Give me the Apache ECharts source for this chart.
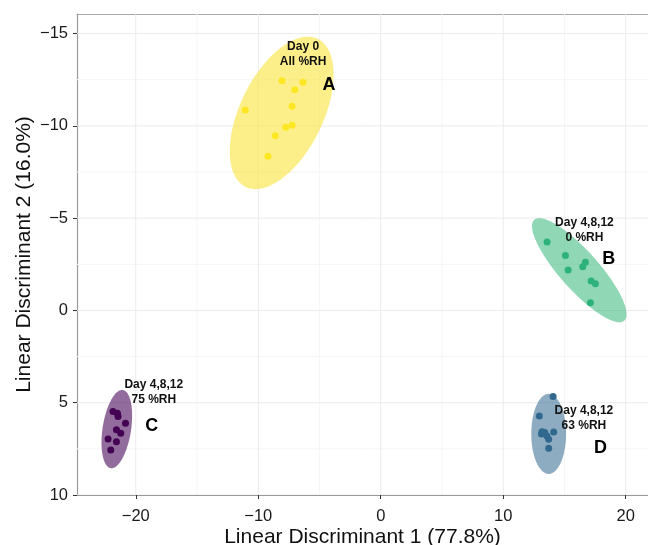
<!DOCTYPE html>
<html><head><meta charset="utf-8">
<script src="https://cdn.jsdelivr.net/npm/echarts@6/dist/echarts.min.js"></script>
<style>html,body{margin:0;padding:0;background:#fff}#c{width:648px;height:545px}</style>
</head><body><div id="c"></div>
<script>
// ---- data ----
const groupNames = ['A', 'B', 'C', 'D'];
const aX = [-8.06, -6.35, -7.02, -11.06, -7.24, -7.24, -7.76, -8.61, -9.21];
const aY = [-12.45, -12.36, -11.96, -10.86, -11.06, -10.03, -9.92, -9.47, -8.35];
const bX = [13.58, 15.08, 16.71, 16.49, 15.30, 17.18, 17.53, 17.12];
const bY = [-3.71, -2.97, -2.61, -2.36, -2.19, -1.60, -1.44, -0.41];
const cX = [-21.86, -21.50, -21.45, -20.84, -21.58, -21.23, -22.26, -21.58, -22.04];
const cY = [5.48, 5.57, 5.75, 6.11, 6.47, 6.65, 6.96, 7.11, 7.56];
const dX = [14.07, 12.95, 13.17, 13.39, 14.12, 13.71, 13.71, 13.12, 13.57];
const dY = [4.67, 5.72, 6.57, 6.62, 6.58, 6.98, 7.47, 6.69, 6.80];
// ellipses: centre, half extent in x and y, x-offset of the extreme-y point
const ellCx = [-8.09, 16.21, -21.55, 13.71];
const ellCy = [-10.70, -2.18, 6.43, 6.69];
const ellHalfX = [4.24, 3.86, 1.25, 1.42];
const ellHalfY = [4.13, 2.82, 2.12, 2.17];
const ellTopDx = [2.13, -3.27, 0.43, 0.0];
// annotations
const noteText = ['Day 0\nAll %RH', 'Day 4,8,12\n0 %RH', 'Day 4,8,12\n75 %RH', 'Day 4,8,12\n63 %RH'];
const noteX = [-6.34, 16.63, -18.53, 16.59];
const noteY = [-13.88, -4.37, 4.41, 5.82];
const letterX = [-4.22, 18.62, -18.69, 17.94];
const letterY = [-12.22, -2.77, 6.29, 7.46];
// axes
const xTicks = [-20, -10, 0, 10, 20];
const yTicks = [-15, -10, -5, 0, 5, 10];
const xMinor = [-25, -15, -5, 5, 15];
const yMinor = [-12.5, -7.5, -2.5, 2.5, 7.5];
const xRange = [-24.8, 21.82];
const yRange = [-16.06, 10];
const xTitle = 'Linear Discriminant 1 (77.8%)';
const yTitle = 'Linear Discriminant 2 (16.0%)';

// ---- styles ----
const ptColors = ['#FDE725', '#2DB27D', '#440154', '#31688E'];
const fillColors = ['rgba(250,228,60,0.6)', 'rgba(53,183,121,0.55)', 'rgba(68,1,84,0.58)', 'rgba(49,104,142,0.55)'];
const FONT = '"Liberation Sans", Arial, Helvetica, sans-serif';
const fmt = v => v < 0 ? '\u2212' + Math.abs(v) : String(v);

const ptsX = [aX, bX, cX, dX], ptsY = [aY, bY, cY, dY];

const gridData = [];
xMinor.forEach(v => gridData.push([0, v, 0]));
yMinor.forEach(v => gridData.push([1, v, 0]));
xTicks.forEach(v => gridData.push([0, v, 1]));
yTicks.forEach(v => gridData.push([1, v, 1]));

const series = [];
series.push({
  type: 'custom', z: 1, silent: true, clip: true,
  data: gridData,
  renderItem: (params, api) => {
    const o = api.value(0), v = api.value(1), major = api.value(2);
    let p1, p2;
    if (o === 0) { p1 = api.coord([v, yRange[0]]); p2 = api.coord([v, yRange[1]]); }
    else { p1 = api.coord([xRange[0], v]); p2 = api.coord([xRange[1], v]); }
    return { type: 'line', shape: { x1: p1[0], y1: p1[1], x2: p2[0], y2: p2[1] },
      style: { stroke: major ? '#ebebeb' : '#f5f5f5', lineWidth: 1 } };
  }
});
series.push({
  type: 'custom', z: 2, silent: true,
  data: groupNames.map((g, i) => [ellCx[i], ellCy[i], i]),
  renderItem: (params, api) => {
    const i = api.value(2);
    const dx = ellTopDx[i], hy = ellHalfY[i], hx = ellHalfX[i];
    const qx = Math.sqrt(Math.max(hx * hx - dx * dx, 0));
    const pts = [];
    for (let k = 0; k < 120; k++) {
      const t = k / 120 * Math.PI * 2;
      pts.push(api.coord([ellCx[i] + dx * Math.cos(t) + qx * Math.sin(t), ellCy[i] - hy * Math.cos(t)]));
    }
    return { type: 'polygon', shape: { points: pts }, style: { fill: fillColors[i], stroke: null } };
  }
});
groupNames.forEach((g, i) => {
  series.push({
    type: 'scatter', name: g, z: 3, symbolSize: 7,
    itemStyle: { color: ptColors[i], opacity: 1 },
    data: ptsX[i].map((x, k) => [x, ptsY[i][k]])
  });
});
series.push({
  type: 'custom', z: 4, silent: true,
  data: groupNames.map((g, i) => [noteX[i], noteY[i], i]),
  renderItem: (params, api) => {
    const i = api.value(2);
    const p = api.coord([noteX[i], noteY[i]]);
    const q = api.coord([letterX[i], letterY[i]]);
    return { type: 'group', children: [
      { type: 'text', x: p[0], y: p[1], style: { text: noteText[i], font: 'bold 12px ' + FONT, fill: '#111', align: 'center', verticalAlign: 'middle', lineHeight: 15 } },
      { type: 'text', x: q[0], y: q[1], style: { text: groupNames[i], font: 'bold 18px ' + FONT, fill: '#000', align: 'center', verticalAlign: 'middle' } }
    ] };
  }
});

const chart = echarts.init(document.getElementById('c'));
chart.setOption({
  animation: false,
  backgroundColor: '#fff',
  grid: { left: 77, right: 0, top: 14, bottom: 50, containLabel: false, outerBoundsMode: 'none' },
  xAxis: [{
    type: 'value', min: xRange[0], max: xRange[1], position: 'bottom',
    name: xTitle, nameLocation: 'middle', nameGap: 32, nameMoveOverlap: false,
    nameTextStyle: { fontFamily: FONT, fontSize: 21, color: '#111' },
    axisLine: { show: true, onZero: false, lineStyle: { color: '#9a9a9a', width: 1.2 } },
    axisTick: { show: true, length: 4, customValues: xTicks, lineStyle: { color: '#333' } },
    axisLabel: { customValues: xTicks, formatter: fmt, fontFamily: FONT, fontSize: 16.5, color: '#1a1a1a', margin: 13 },
    splitLine: { show: false }
  }, {
    type: 'value', min: xRange[0], max: xRange[1], position: 'top',
    axisLine: { show: true, onZero: false, lineStyle: { color: '#a8a8a8', width: 1.2 } },
    axisTick: { show: false }, axisLabel: { show: false }, splitLine: { show: false }
  }],
  yAxis: {
    type: 'value', inverse: true, min: yRange[0], max: yRange[1],
    name: yTitle, nameLocation: 'middle', nameGap: 42, nameMoveOverlap: false,
    nameTextStyle: { fontFamily: FONT, fontSize: 21, color: '#111' },
    axisLine: { show: true, onZero: false, lineStyle: { color: '#9a9a9a', width: 1.2 } },
    axisTick: { show: true, length: 4, customValues: yTicks, lineStyle: { color: '#333' } },
    axisLabel: { customValues: yTicks, formatter: fmt, fontFamily: FONT, fontSize: 16.5, color: '#1a1a1a', margin: 9 },
    splitLine: { show: false }
  },
  series: series
});
</script></body></html>
